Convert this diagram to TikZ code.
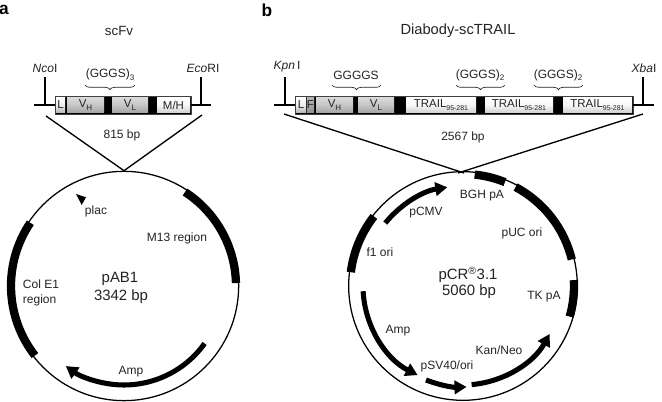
\documentclass[tikz,border=0pt]{standalone}
\usepackage{xcolor}
\usepackage{fontspec}
\setmainfont{Liberation Sans}
\usepackage{tikz}
\usetikzlibrary{arrows.meta,positioning,calc,decorations.pathreplacing}
\definecolor{inkgray}{RGB}{35,35,35}
\newcommand{\subsm}[1]{\raisebox{-2pt}{\fontsize{5.2}{6}\selectfont #1}}
\newcommand{\subvh}[1]{\raisebox{-2pt}{\fontsize{6}{6}\selectfont #1}}

\begin{document}
\begin{tikzpicture}[x=0.75pt,y=0.75pt,
  lab/.style={inner sep=0pt,align=center,text=inkgray,font=\fontsize{9}{11}\selectfont},
  big/.style={inner sep=0pt,align=center,text=inkgray,font=\fontsize{11.2}{13}\selectfont},
  panel/.style={inner sep=0pt,font=\fontsize{13}{15}\selectfont\bfseries},
  ring/.style={circle,draw,line width=0.95pt,inner sep=0pt,minimum size=172pt},
  genebox/.style={rectangle,fill=black,draw=black!75,line width=0.5pt,inner sep=0pt,minimum height=13.5pt},
  seg/.style={rectangle,inner sep=0pt,minimum height=11pt,text=inkgray,font=\fontsize{8.6}{9}\selectfont},
  lite/.style={seg,top color=white,bottom color=gray!55,middle color=gray!15},
  dark/.style={seg,top color=gray!30,bottom color=gray!70,middle color=gray!45},
  deep/.style={seg,top color=gray!60,bottom color=gray!85,middle color=gray!70},
  pale/.style={seg,top color=white,bottom color=gray!35,middle color=gray!6},
  site/.style={line width=1pt},
  band/.style={line width=6.2pt},
  arr/.style={-{Triangle[length=9pt,width=10pt]},line width=3.8pt},
  brc/.style={decorate,decoration={brace,mirror,amplitude=3.5pt},line width=0.5pt,draw=inkgray}
]
\useasboundingbox (0,0) rectangle (662,402);

% panel a
\node[panel] (pnla) at (4,392) {a};
\node[lab,font=\fontsize{10}{12}\selectfont] (tta) at (119,371) {scFv};
\node[genebox,minimum width=102pt] (boxa) at (123,297) {};
\node[lite,minimum width=6.75pt] (la) at (60.5,297) {L};
\node[dark,minimum width=27.75pt] (vha) at (85.5,297) {V\subvh{H}};
\node[dark,minimum width=27pt] (vla) at (130,297) {V\subvh{L}};
\node[pale,minimum width=24.75pt] (mh) at (173.5,297) {M/H};
\coordinate (ncoend) at (34,297);
\coordinate (ncofoot) at (45,297);
\coordinate (ncotop) at (45,325);
\coordinate (ecoend) at (211,297);
\coordinate (ecofoot) at (201,297);
\coordinate (ecotop) at (201,325);
\draw[site] (ncoend)--(boxa); \draw[site] (ncofoot)--(ncotop);
\draw[site] (ecoend)--(boxa); \draw[site] (ecofoot)--(ecotop);
\node[lab] (nco) at (45,334) {\textit{Nco}I};
\node[lab] (eco) at (203,334) {\textit{Eco}RI};
\node[lab] (ga) at (110,327) {(GGGS)\subvh{3}};
\coordinate (bra1) at (85,317);
\coordinate (bra2) at (135,317);
\draw[brc] (bra1)--(bra2);
\node[lab] (sa) at (122,267) {815 bp};
\coordinate (va1) at (46,286);
\coordinate (va2) at (202,287);
\node[ring] (pa) at (124,116) {};
\draw[site] (va1)--(pa.north); \draw[site] (va2)--(pa.north);
\draw[band] ([shift={(57:112)}]pa.center) arc[start angle=57,end angle=1.5,radius=112];
\draw[band] ([shift={(146:113)}]pa.center) arc[start angle=146,end angle=218,radius=113];
\draw[arr] ([shift={(-35.5:99)}]pa.center) arc[start angle=-35.5,end angle=-126,radius=99];
\coordinate (pl1) at (76,208);
\coordinate (pl2) at (86,204.7);
\coordinate (pl3) at (81.7,197);
\fill (pl1)--(pl2)--(pl3)--cycle;
\node[lab] (plac) at (96,191) {plac};
\node[lab] (m13) at (177,164) {M13 region};
\node[lab,align=left] (cole) at (41,109) {Col E1\\region};
\node[big] (pab) at (120,123) {pAB1};
\node[big] (bpa) at (121,105) {3342 bp};
\node[lab] (ampa) at (131,30) {Amp};

% panel b
\node[panel] (pnlb) at (267,392) {b};
\node[lab,font=\fontsize{11}{13}\selectfont] (ttb) at (458,371) {Diabody-scTRAIL};
\node[genebox,minimum width=253.5pt] (boxb) at (464,297) {};
\node[lite,minimum width=7.5pt] (lb) at (301,297) {L};
\node[deep,minimum width=5.25pt] (fb) at (310.5,297) {F};
\node[dark,minimum width=27.75pt] (vhb) at (334.5,297) {V\subvh{H}};
\node[dark,minimum width=27pt] (vlb) at (376,297) {V\subvh{L}};
\node[pale,minimum width=52.5pt] (tra) at (441,297) {TRAIL\subsm{95-281}};
\node[pale,minimum width=51pt] (trb) at (519,297) {TRAIL\subsm{95-281}};
\node[pale,minimum width=51.75pt] (trc) at (597.5,297) {TRAIL\subsm{95-281}};
\coordinate (kpnend) at (274,297);
\coordinate (kpnfoot) at (285,297);
\coordinate (kpntop) at (285,325);
\coordinate (xbaend) at (654,297);
\coordinate (xbafoot) at (643,297);
\coordinate (xbatop) at (643,325);
\draw[site] (kpnend)--(boxb); \draw[site] (kpnfoot)--(kpntop);
\draw[site] (xbaend)--(boxb); \draw[site] (xbafoot)--(xbatop);
\node[lab] (kpn) at (287,335) {\textit{Kpn}\,I};
\node[lab] (xba) at (644,334) {\textit{Xba}I};
\node[lab] (gb1) at (356,327) {GGGGS};
\node[lab] (gb2) at (480,327) {(GGGS)\subvh{2}};
\node[lab] (gb3) at (558,327) {(GGGS)\subvh{2}};
\coordinate (brb1) at (332,317);
\coordinate (brb2) at (381,317);
\coordinate (brb3) at (456,317);
\coordinate (brb4) at (505,317);
\coordinate (brb5) at (534,317);
\coordinate (brb6) at (583,317);
\draw[brc] (brb1)--(brb2); \draw[brc] (brb3)--(brb4); \draw[brc] (brb5)--(brb6);
\node[lab] (sb) at (463,265) {2567 bp};
\coordinate (vb1) at (284,288);
\coordinate (vb2) at (643,288);
\coordinate (vb3) at (464,229);
\coordinate (vb4) at (458,229);
\draw[site] (vb1)--(vb3); \draw[site] (vb2)--(vb4);
\node[ring,minimum size=171.5pt] (pb) at (463,116) {};
\draw[band] ([shift={(84:112)}]pb.center) arc[start angle=84,end angle=68,radius=112];
\draw[band] ([shift={(62:112)}]pb.center) arc[start angle=62,end angle=13.7,radius=112];
\draw[band] ([shift={(3:111)}]pb.center) arc[start angle=3,end angle=-16,radius=111];
\draw[band] ([shift={(142:113)}]pb.center) arc[start angle=142,end angle=173,radius=113];
\draw[arr] ([shift={(141:100)}]pb.center) arc[start angle=141,end angle=99,radius=100];
\draw[arr] ([shift={(183:100)}]pb.center) arc[start angle=183,end angle=243,radius=100];
\draw[arr] ([shift={(248.5:101)}]pb.center) arc[start angle=248.5,end angle=272,radius=101];
\draw[arr] ([shift={(275:99)}]pb.center) arc[start angle=275,end angle=331,radius=99];
\node[lab] (bgh) at (482,206) {BGH pA};
\node[lab] (cmv) at (426,189) {pCMV};
\node[lab] (puc) at (522,169) {pUC ori};
\node[lab] (fone) at (380,150) {f1 ori};
\node[big] (pcr) at (468,127) {pCR\textsuperscript{\textregistered}3.1};
\node[big] (bpb) at (469,110) {5060 bp};
\node[lab] (tk) at (544,105) {TK pA};
\node[lab] (ampb) at (398,71) {Amp};
\node[lab] (kan) at (499,52) {Kan/Neo};
\node[lab] (sv) at (447,36) {pSV40/ori};
\end{tikzpicture}
\end{document}
